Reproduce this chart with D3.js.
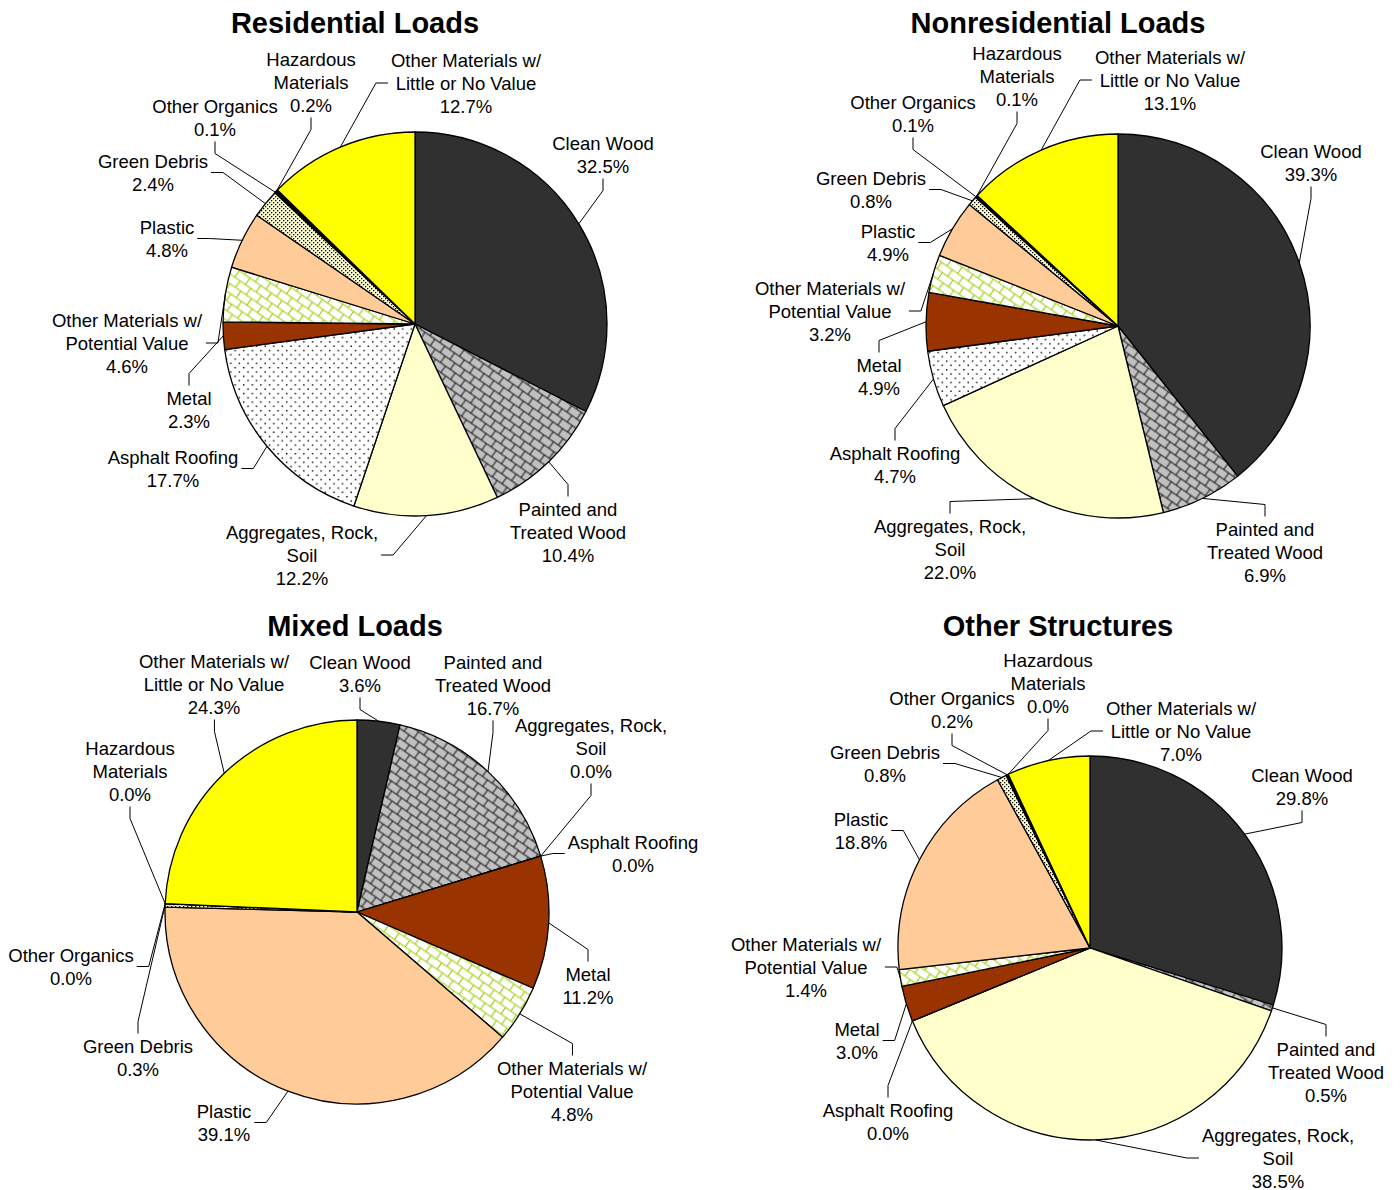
<!DOCTYPE html>
<html>
<head>
<meta charset="utf-8">
<script src="https://cdn.jsdelivr.net/npm/d3@7"></script>
<style>
body { margin: 0; background: #fff; }
text { font-family: "Liberation Sans", Arial, sans-serif; fill: #000; }
</style>
</head>
<body>
<div id="chart"></div>
<script>
// slice order: clockwise from 12 o'clock
var categories = ["Clean Wood", "Painted and Treated Wood", "Aggregates, Rock, Soil", "Asphalt Roofing", "Metal",
  "Other Materials w/ Potential Value", "Plastic", "Green Debris", "Other Organics", "Hazardous Materials",
  "Other Materials w/ Little or No Value"];
var labelLines = [["Clean Wood"], ["Painted and", "Treated Wood"], ["Aggregates, Rock,", "Soil"], ["Asphalt Roofing"],
  ["Metal"], ["Other Materials w/", "Potential Value"], ["Plastic"], ["Green Debris"], ["Other Organics"],
  ["Hazardous", "Materials"], ["Other Materials w/", "Little or No Value"]];

var residential     = [32.5, 10.4, 12.2, 17.7, 2.3, 4.6, 4.8, 2.4, 0.1, 0.2, 12.7];
var nonresidential  = [39.3, 6.9, 22.0, 4.7, 4.9, 3.2, 4.9, 0.8, 0.1, 0.1, 13.1];
var mixed           = [3.6, 16.7, 0.0, 0.0, 11.2, 4.8, 39.1, 0.3, 0.0, 0.0, 24.3];
var otherStructures = [29.8, 0.5, 38.5, 0.0, 3.0, 1.4, 18.8, 0.8, 0.2, 0.0, 7.0];

var titles = ["Residential Loads", "Nonresidential Loads", "Mixed Loads", "Other Structures"];

var width = 1400, height = 1190, radius = 192;
var lineH = 23, fontSize = 18.5;

// label placement (centre x, first line y) for each slice
var panels = [
  { title: titles[0], values: residential, cx: 415, cy: 324, tx: 355, ty: 22,
    labels: [[603,143],[568,509],[302,532],[173,457],[189,398],[127,320],[167,227],[153,161],[215,106],[311,59],[466,60]] },
  { title: titles[1], values: nonresidential, cx: 1118, cy: 326, tx: 1058, ty: 22,
    labels: [[1311,151],[1265,529],[950,526],[895,453],[879,365],[830,288],[888,231],[871,178],[913,102],[1017,53],[1170,57]] },
  { title: titles[2], values: mixed, cx: 357, cy: 912, tx: 355, ty: 625,
    labels: [[360,662],[493,662],[591,725],[633,842],[588,974],[572,1068],[224,1111],[138,1046],[71,955],[130,748],[214,661]] },
  { title: titles[3], values: otherStructures, cx: 1090, cy: 948, tx: 1058, ty: 625,
    labels: [[1302,775],[1326,1049],[1278,1135],[888,1110],[857,1029],[806,944],[861,819],[885,752],[952,698],[1048,660],[1181,708]] }
];

var svg = d3.select("#chart").append("svg")
  .attr("width", width)
  .attr("height", height);

var defs = svg.append("defs");

function brickPattern(id, bg, fg, w, h, sw) {
  var hh = h / 2, hw = w / 2;
  var p = defs.append("pattern")
    .attr("id", id)
    .attr("patternUnits", "userSpaceOnUse")
    .attr("width", w).attr("height", h)
    .attr("patternTransform", "rotate(35)");
  p.append("rect").attr("width", w).attr("height", h).attr("fill", bg);
  p.append("path")
    .attr("d", "M0,1H" + w + "M0," + (hh + 1) + "H" + w +
               "M1,1V" + (hh + 1) + "M" + (hw + 1) + "," + (hh + 1) + "V" + (h + 1) +
               "M" + (hw + 1) + "," + (1 - hh) + "V1")
    .attr("stroke", fg).attr("stroke-width", sw).attr("fill", "none");
}

function dotPattern(id, bg, fg, size, pts, dot) {
  var p = defs.append("pattern")
    .attr("id", id)
    .attr("patternUnits", "userSpaceOnUse")
    .attr("width", size).attr("height", size);
  p.append("rect").attr("width", size).attr("height", size).attr("fill", bg);
  pts.forEach(function(q) {
    p.append("rect").attr("x", q[0]).attr("y", q[1]).attr("width", dot).attr("height", dot).attr("fill", fg);
  });
}

brickPattern("painted", "#c0c0c0", "#000", 12, 16, 0.9);
brickPattern("potential", "#ffffff", "#99cc00", 13, 16, 1.1);
dotPattern("asphalt", "#ffffff", "#000", 8.6, [[0, 0], [4.3, 4.3]], 1.4);
dotPattern("greendebris", "#ffffcc", "#000", 4, [[0, 0], [2, 2]], 1.3);

var fills = ["#303030", "url(#painted)", "#ffffcc", "url(#asphalt)", "#993300", "url(#potential)",
  "#ffcc99", "url(#greendebris)", "#000000", "#000000", "#ffff00"];

var pie = d3.pie().sort(null).value(function(d) { return d; });
var arc = d3.arc().innerRadius(0).outerRadius(radius);

panels.forEach(function(panel) {
  svg.append("text")
    .attr("x", panel.tx)
    .attr("y", panel.ty + 10.5)
    .attr("text-anchor", "middle")
    .attr("font-size", 29)
    .attr("font-weight", "bold")
    .text(panel.title);

  var g = svg.append("g")
    .attr("transform", "translate(" + panel.cx + "," + panel.cy + ")");

  var arcs = pie(panel.values);

  g.selectAll("path.slice")
    .data(arcs)
    .enter().append("path")
    .attr("class", "slice")
    .attr("d", arc)
    .attr("fill", function(d, i) { return fills[i]; })
    .attr("stroke", "#000")
    .attr("stroke-width", 1.3)
    .attr("stroke-linejoin", "round");

  arcs.forEach(function(d, i) {
    var pos = panel.labels[i];
    var lines = labelLines[i].concat([panel.values[i].toFixed(1) + "%"]);
    var t = svg.append("text")
      .attr("text-anchor", "middle")
      .attr("font-size", fontSize);
    lines.forEach(function(s, k) {
      t.append("tspan")
        .attr("x", pos[0])
        .attr("y", pos[1] + k * lineH + 6.5)
        .text(s);
    });
    var bb = t.node().getBBox();

    // leader line from the slice edge to the label box
    var a = (d.startAngle + d.endAngle) / 2;
    var px = panel.cx + radius * Math.sin(a);
    var py = panel.cy - radius * Math.cos(a);
    var x0 = bb.x, x1 = bb.x + bb.width, y0 = bb.y, y1 = bb.y + bb.height;
    var gapX = px < x0 ? x0 - px : (px > x1 ? px - x1 : 0);
    var gapY = py < y0 ? y0 - py : (py > y1 ? py - y1 : 0);
    if (gapX < 4 && gapY < 4) return;
    var pts;
    if (gapX > 0.75 * gapY) {
      var my = (y0 + y1) / 2;
      var sx = px < x0 ? x0 - 3 : x1 + 3;
      var ex = px < x0 ? sx - 12 : sx + 12;
      pts = [[sx, my], [ex, my], [px, py]];
    } else {
      var mx = (x0 + x1) / 2;
      var sy = py < y0 ? y0 - 2 : y1 + 2;
      var ey = py < y0 ? sy - 12 : sy + 12;
      pts = [[mx, sy], [mx, ey], [px, py]];
    }
    svg.append("path")
      .attr("d", d3.line()(pts))
      .attr("fill", "none")
      .attr("stroke", "#000")
      .attr("stroke-width", 1);
  });
});
</script>
</body>
</html>
